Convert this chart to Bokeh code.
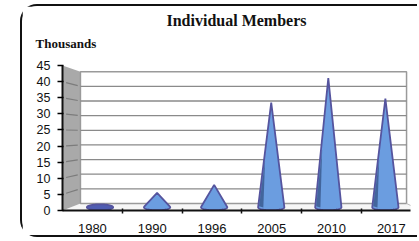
import numpy as np
from bokeh.plotting import figure
from bokeh.models import FixedTicker, Title
from bokeh.embed import file_html
from bokeh.resources import INLINE

# ---- data ----
years = ["1980", "1990", "1996", "2005", "2010", "2017"]
members = [0.5, 4.7, 7.3, 34.0, 42.0, 35.3]   # thousands
y_ticks = [0, 5, 10, 15, 20, 25, 30, 35, 40, 45]
y_max = 45
title_text = "Individual Members"
unit_text = "Thousands"

n = len(years)
# 3-D projection of the (Excel-style) depth: t=0 front, t=1 back wall
def proj(x, v, t):
    s = 1 - 0.091 * t
    return 0.30 * t + s * np.asarray(x, float), 2.17 * t + s * np.asarray(v, float)

p = figure(width=397, height=233, x_range=(0, 5.82), y_range=(0, y_max),
           output_backend="svg", toolbar_location=None,
           min_border_left=40, min_border_right=9, min_border_top=59, min_border_bottom=29)
p.styles = {"border-top": "2px solid #111", "border-left": "2px solid #111",
            "border-bottom": "2px solid #111",
            "border-top-left-radius": "17px", "border-bottom-left-radius": "17px",
            "margin-left": "20px", "margin-top": "4px"}
p.background_fill_color = "white"
p.border_fill_color = "white"
p.outline_line_color = None
p.grid.visible = False

# floor
fx, fy = proj([0, 0, n, n], [0, 0, 0, 0], np.array([0, 1, 1, 0]))
p.patch(fx, fy, fill_color="#f6f6f6", line_color=None)
# side wall
sx, sy = proj([0, 0, 0, 0], [0, y_max, y_max, 0], np.array([0, 0, 1, 1]))
p.patch(sx, sy, fill_color="#a9a9a9", line_color=None)
# back wall
bx, by = proj([0, n, n, 0], [0, 0, y_max, y_max], 1)
p.patch(bx, by, fill_color="white", line_color="#9a9a9a", line_width=1.5)
# gridlines on back wall and side wall
for v in y_ticks[1:-1]:
    gx, gy = proj([0, n], [v, v], 1)
    p.line(gx, gy, line_color="#8a8a8a", line_width=1.3)
    dx0, dy0 = proj(0, v, 0.2)
    dx1, dy1 = proj(0, v, 0.85)
    p.line([dx0, dx1], [dy0, dy1], line_color="#7c7c7c", line_width=1.2)
# right floor edge
rx, ry = proj([n, n], [0, 0], np.array([1, 0]))
p.line(rx, ry, line_color="#bbbbbb", line_width=1)

# cones
def hull(pts):
    pts = sorted(set(pts))
    def cross(o, a, b):
        return (a[0]-o[0])*(b[1]-o[1]) - (a[1]-o[1])*(b[0]-o[0])
    lo, up = [], []
    for q in pts:
        while len(lo) >= 2 and cross(lo[-2], lo[-1], q) <= 0:
            lo.pop()
        lo.append(q)
    for q in reversed(pts):
        while len(up) >= 2 and cross(up[-2], up[-1], q) <= 0:
            up.pop()
        up.append(q)
    return lo[:-1] + up[:-1]

hw, hb = 0.22, 0.93
th = np.linspace(0, 2 * np.pi, 60, endpoint=False)
for i, v in enumerate(members):
    cx, tip = proj(i + 0.5, v, 0.5)
    base_y = 1.0
    tip = base_y + (tip - 1.09)
    pts = [(float(cx + hw * np.cos(a)), float(base_y + hb * np.sin(a))) for a in th]
    pts.append((float(cx), float(tip)))
    h = hull(pts)
    fill = "#4f5db2" if v < 2 else "#6b9de0"   # an almost flat cone shows its darker top
    p.patch([q[0] for q in h], [q[1] for q in h], fill_color=fill,
            line_color="#55549e", line_width=1.8)
    if v > 20:
        # darker shading on the left flank
        f0 = 0.45
        sxs = [cx - hw * 0.92, cx - hw * (1 - f0) * 0.85, cx - hw * 0.6]
        sys_ = [base_y + 0.3, base_y + f0 * (tip - base_y), base_y - 0.1]
        p.patch(sxs, sys_, fill_color="#26406e", fill_alpha=0.6, line_color=None)

# axes
p.yaxis.ticker = FixedTicker(ticks=y_ticks, minor_ticks=[])
p.yaxis.axis_line_width = 2
p.yaxis.axis_line_color = "#111111"
p.yaxis.major_tick_out = 5
p.yaxis.major_tick_in = 1
p.yaxis.major_tick_line_width = 1.5
p.yaxis.major_label_standoff = 7
p.yaxis.major_label_text_font = "Liberation Sans"
p.yaxis.major_label_text_font_size = "12.5px"
p.yaxis.major_label_text_color = "#111111"

centers = [i + 0.5 for i in range(n)]
p.xaxis.ticker = FixedTicker(ticks=centers, minor_ticks=list(range(1, n)))
p.xaxis.major_label_overrides = {c: y for c, y in zip(centers, years)}
p.xaxis.axis_line_width = 2
p.xaxis.axis_line_color = "#111111"
p.xaxis.major_tick_out = 0
p.xaxis.major_tick_in = 0
p.xaxis.minor_tick_out = 3
p.xaxis.minor_tick_in = 2
p.xaxis.minor_tick_line_width = 1.5
p.xaxis.minor_tick_line_color = "#111111"
p.xaxis.major_label_standoff = 10
p.xaxis.major_label_text_font = "Liberation Sans"
p.xaxis.major_label_text_font_size = "13px"
p.xaxis.major_label_text_color = "#111111"

# titles: main title outermost, then the unit line, then a blank spacer next to the frame
p.title.text = title_text
p.title.align = "center"
p.title.offset = -1.5
p.title.text_font = "Liberation Serif"
p.title.text_font_size = "16px"
p.title.text_font_style = "bold"
p.title.text_color = "#111111"
p.title.standoff = 2
spacer = Title(text=" ", text_font_size="2px", standoff=6.2)
p.add_layout(spacer, "above")
sub = Title(text=unit_text, align="left", offset=-27,
            text_font="Liberation Serif", text_font_size="13px",
            text_font_style="bold", text_color="#111111", standoff=8.5)
p.add_layout(sub, "above")

open("out.html", "w").write(file_html(p, INLINE))
